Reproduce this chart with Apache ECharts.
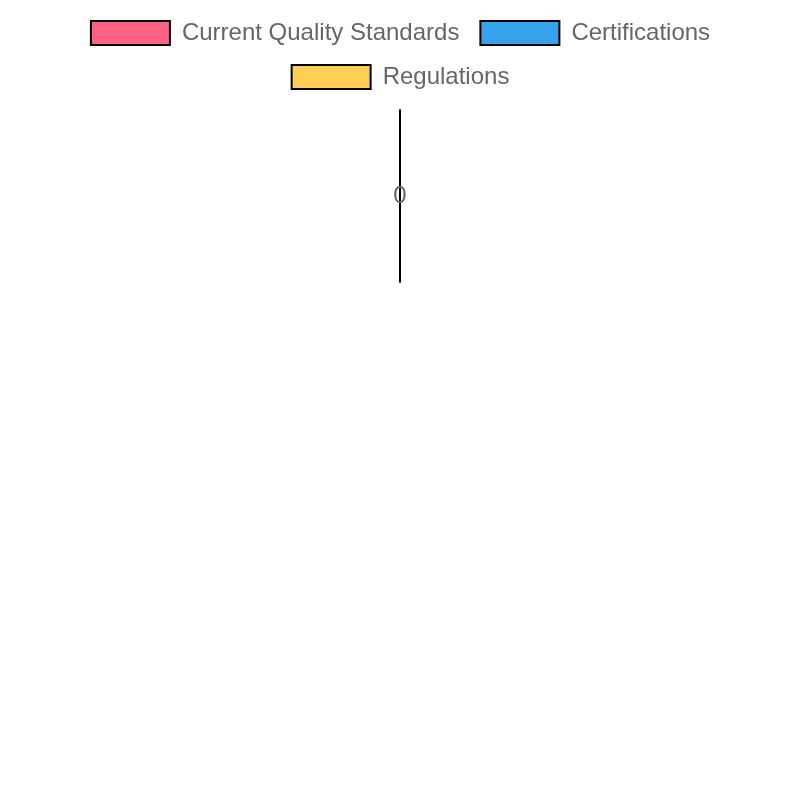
<!DOCTYPE html>
<html>
<head>
<meta charset="utf-8">
<title>Quality chart</title>
<style>
	html, body { margin: 0; padding: 0; background: #fff; }
	#main { width: 800px; height: 800px; }
</style>
</head>
<body>
<div id="main"></div>
<script src="https://cdn.jsdelivr.net/npm/echarts@6/dist/echarts.min.js"></script>
<script>
	// data: every series is empty / zero
	var categories = [''];
	var seriesNames = ['Current Quality Standards', 'Certifications', 'Regulations'];
	var seriesColors = ['#FF6384', '#36A2EB', '#FFCE56'];
	var qualityValues = [0];
	var certificationValues = [0];
	var regulationValues = [0];
	var tickValues = [-1, 0, 1];

	var myChart = echarts.init(document.getElementById('main'));
	var font = '"Liberation Sans", Arial, sans-serif';

	var legendBase = {
		icon: 'rect',
		itemWidth: 79,
		itemHeight: 24,
		itemGap: 20,
		padding: 0,
		left: 'center',
		textStyle: { color: '#666', fontSize: 24, fontFamily: font, padding: [2, 0, 0, 7] },
		itemStyle: { borderColor: '#000', borderWidth: 2 }
	};

	var valueLists = [qualityValues, certificationValues, regulationValues];
	var series = [];
	for (var i = 0; i < seriesNames.length; i++) {
		series.push({
			name: seriesNames[i],
			type: 'bar',
			data: valueLists[i],
			itemStyle: { color: seriesColors[i], borderColor: '#000', borderWidth: 2 }
		});
	}

	myChart.setOption({
		animation: false,
		color: seriesColors,
		legend: [
			Object.assign({}, legendBase, { top: 20, data: [seriesNames[0], seriesNames[1]] }),
			Object.assign({}, legendBase, { top: 64, data: [seriesNames[2]] })
		],
		grid: { left: 400, width: 1, top: 110, height: 172 },
		xAxis: {
			type: 'category',
			data: categories,
			show: false
		},
		yAxis: {
			type: 'value',
			min: tickValues[0],
			max: tickValues[tickValues.length - 1],
			interval: 1,
			axisLine: { show: true, lineStyle: { color: '#000', width: 2 } },
			axisTick: { show: false },
			splitLine: { show: false },
			axisLabel: {
				margin: 0,
				align: 'center',
				color: '#666',
				fontSize: 24,
				fontFamily: font,
				padding: [4, 0, 0, 0],
				formatter: function (v) { return v === 0 ? '0' : ''; }
			}
		},
		series: series
	});
</script>
</body>
</html>
